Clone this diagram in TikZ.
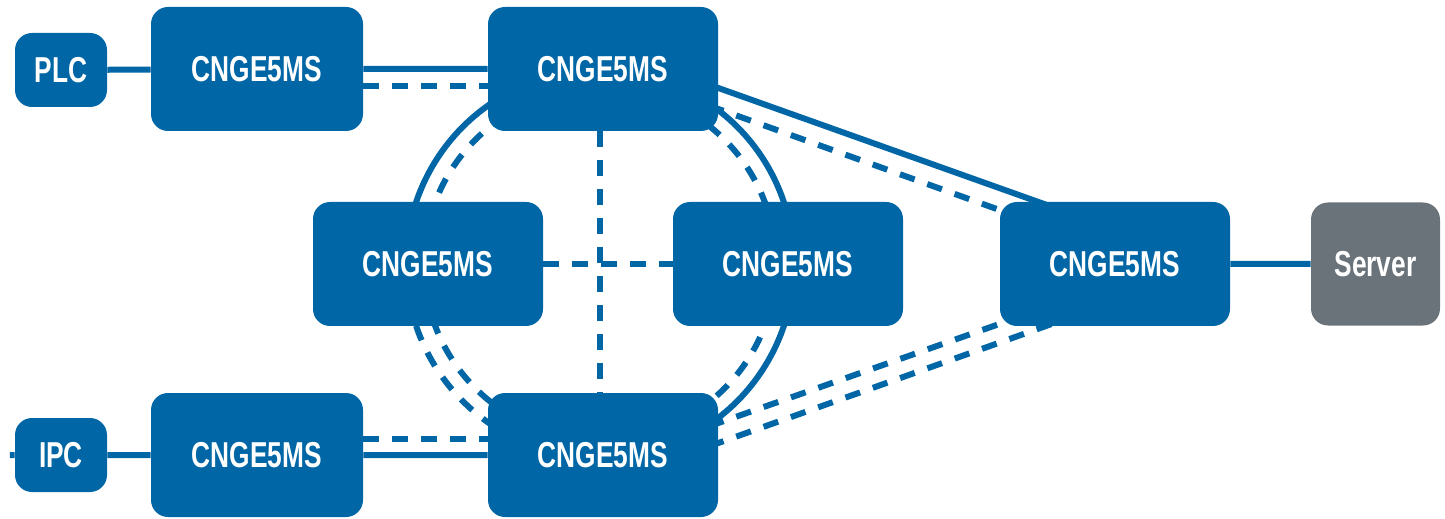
\documentclass[tikz,border=0pt]{standalone}
\usepackage{fontspec}
\newfontfamily\boxfont[FakeStretch=0.73]{Liberation Sans}
\usepackage{tikz}
\usetikzlibrary{positioning,backgrounds}

\definecolor{netblue}{RGB}{0,102,166}
\definecolor{netgray}{RGB}{106,115,121}

\tikzset{
  sw/.style    ={fill=netblue, rounded corners=0.34cm, inner sep=0pt,
                 minimum width=4.6cm, minimum height=2.48cm, text=white,
                 font=\boxfont\bfseries\fontsize{20.5}{24}\selectfont},
  term/.style  ={sw, minimum width=1.84cm, minimum height=1.48cm},
  wire/.style  ={netblue, line width=0.12cm},
  dwire/.style ={wire, dash pattern=on 0.31cm off 0.27cm},
}

\begin{document}
\begin{tikzpicture}

% Parameters of the ring (outer and inner radius)
\def \ro{ 3.88cm }
\def \ri{ 3.52cm }

\useasboundingbox (0,0) rectangle (28.9,10.36);

% Centre of the ring
\coordinate (ring) at (12.0,5.08);
\coordinate (stub) at (0.2,1.26);

% End devices
\node[term]                       (plc) at (1.22,8.96) {PLC};
\node[term]                       (ipc) at (1.22,1.26) {IPC};
\node[sw, fill=netgray, minimum width=2.58cm, minimum height=2.46cm]
                                  (srv) at (27.51,5.08) {Server};

% The switches
\node[sw, minimum width=4.24cm]   (sw1) at (5.14,8.98)  {CNGE5MS};
\node[sw]                         (sw2) at (12.06,8.98) {CNGE5MS};
\node[sw]                         (sw3) at (8.56,5.08)  {CNGE5MS};
\node[sw]                         (sw4) at (15.76,5.08) {CNGE5MS};
\node[sw]                         (sw5) at (22.30,5.08) {CNGE5MS};
\node[sw, minimum width=4.24cm]   (sw6) at (5.14,1.26)  {CNGE5MS};
\node[sw]                         (sw7) at (12.06,1.26) {CNGE5MS};

\begin{pgfonlayer}{background}
% Straight links, solid
\draw[wire] (plc) -- (sw1)
            (sw1) -- (sw2)
            (ipc) -- (sw6)
            (ipc.west) -- (stub)
            (sw6) -- (sw7)
            (sw5) -- (srv);

% Straight links, dashed
\draw[dwire] ([yshift=-0.35cm]sw1.east) -- ([yshift=-0.35cm]sw2.west);
\draw[dwire] ([yshift=0.32cm]sw6.east)  -- ([yshift=0.32cm]sw7.west);
\draw[dwire] (sw3) -- (sw4);
\draw[dwire] (sw2.south -| ring) -- (sw7.north -| ring);

% Links towards the right switch
\draw[wire, shorten <=-0.2cm, shorten >=-0.2cm]
  ([yshift=-0.38cm]sw2.east) -- ([xshift=-1.55cm]sw5.north);
\draw[dwire, shorten <=-0.2cm]
  ([yshift=-0.8cm]sw2.east)  -- ([shift={(0.2,-0.24)}]sw5.north west);
\draw[dwire, shorten <=-0.2cm]
  ([yshift=0.64cm]sw7.east)  -- ([shift={(0.2,0.12)}]sw5.south west);
\draw[dwire, shorten <=-0.2cm, shorten >=-0.2cm]
  ([yshift=0.24cm]sw7.east)  -- ([xshift=-1.4cm]sw5.south);

% The double ring (outer arc is dashed between sw3 and sw7)
\draw[wire]  (ring) ++(-120:\ro) arc[start angle=-120, end angle=190, radius=\ro];
\draw[dwire] (ring) ++(190:\ro)  arc[start angle=190,  end angle=240, radius=\ro];
\draw[dwire] (ring) circle[radius=\ri];
\end{pgfonlayer}

\end{tikzpicture}
\end{document}
